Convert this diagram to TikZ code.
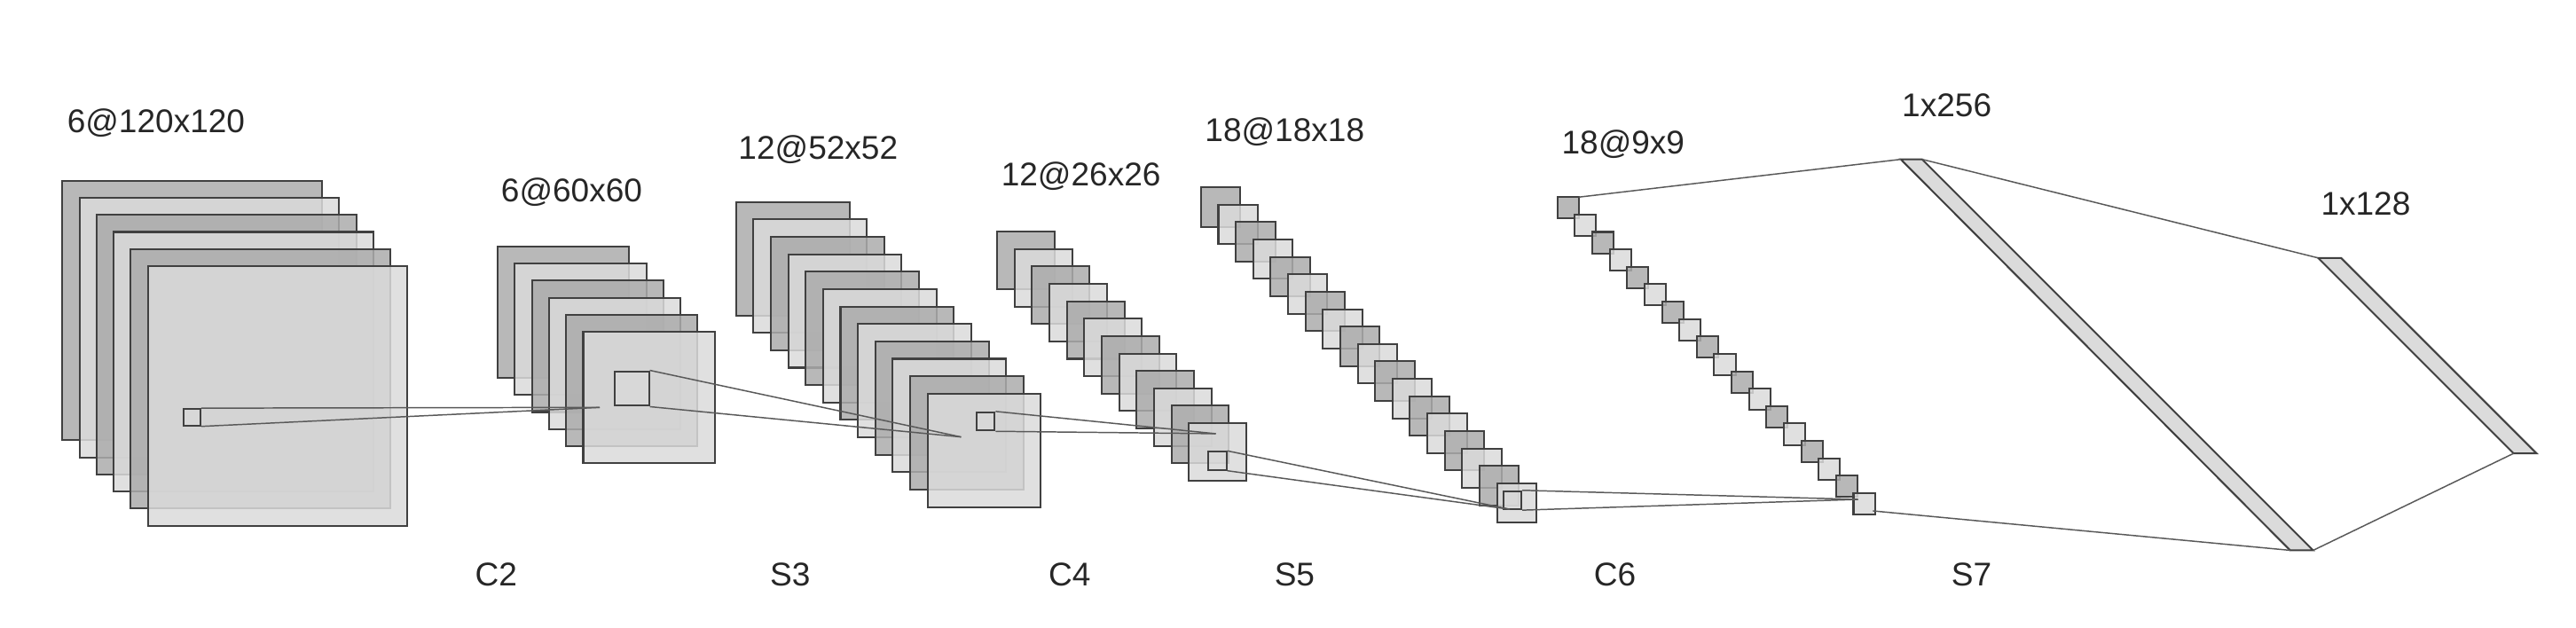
\documentclass[tikz,border=0pt]{standalone}
\usepackage{fontspec}
\setmainfont{Liberation Sans}
\begin{document}
\begin{tikzpicture}[x=1pt,y=-1pt,
  dk/.style={draw=black!75,line width=1.1pt,fill=black!33,fill opacity=0.85},
  lt/.style={draw=black!75,line width=1.1pt,fill=black!14,fill opacity=0.85},
  conn/.style={draw=black!65,line width=0.8pt},
  lbl/.style={font=\fontsize{20}{24}\selectfont,text=black!85,inner sep=0pt},
  sq/.style={draw=black!75,line width=1.1pt,inner sep=0pt,minimum size=#1,fill=black!14}]
\useasboundingbox (0,0) rectangle (1568,382);
% layer macro: x0 y0 size n step
\newcommand{\fmaps}[5]{%
  \foreach \i in {1,...,#4}{%
    \pgfmathsetmacro{\xx}{#1+(\i-1)*#5}%
    \pgfmathsetmacro{\yy}{#2+(\i-1)*#5}%
    \pgfmathparse{int(mod(\i,2))}%
    \ifnum\pgfmathresult=1 \def\st{dk}\else\def\st{lt}\fi
    \draw[\st] (\xx,\yy) rectangle ++(#3,#3);
  }}
\fmaps{38}{110}{158}{6}{10.4}
\fmaps{303}{150}{80}{6}{10.4}
\fmaps{448}{123}{69}{12}{10.6}
\fmaps{607}{141}{35}{12}{10.6}
\fmaps{731}{114}{24}{18}{10.6}
\fmaps{948}{120}{13}{18}{10.6}
% kernels
\node[sq=10pt,fill opacity=0.6] (k1) at (117,254) {};
\node[sq=21pt,fill opacity=0.6] (k2) at (384.5,236.5) {};
\node[sq=11pt,fill opacity=0.6] (k3) at (600,256.5) {};
\node[sq=11pt,fill opacity=0.6] (k4) at (741,280.5) {};
\node[sq=11pt,fill opacity=0.6] (k5) at (920.5,304.5) {};
\coordinate (p2) at (365,248);
\coordinate (p3) at (585,266);
\coordinate (p4) at (740,264);
\coordinate (p5) at (919,310);
\coordinate (p6) at (1131,304);
\foreach \a/\b in {k1/p2,k2/p3,k3/p4,k4/p5,k5/p6}{
  \draw[conn] (\a.north east) -- (\b);
  \draw[conn] (\a.south east) -- (\b);
}
% dense bars
\coordinate (a1) at (1157,97); \coordinate (a2) at (1170,97);
\coordinate (a3) at (1408,335); \coordinate (a4) at (1394,335);
\coordinate (b1) at (1411,157); \coordinate (b2) at (1425,157);
\coordinate (b3) at (1544,276); \coordinate (b4) at (1530,276);
\draw[lt,fill opacity=1] (a1) -- (a2) -- (a3) -- (a4) -- cycle;
\draw[lt,fill opacity=1] (b1) -- (b2) -- (b3) -- (b4) -- cycle;
\coordinate (c6t) at (961,120);
\coordinate (c6b) at (1140,311);
\draw[conn] (c6t) -- (a1);
\draw[conn] (c6b) -- (a4);
\draw[conn] (a2) -- (b1);
\draw[conn] (a3) -- (b4);
% labels
\node[lbl] (t1) at (95,75) {6@120x120};
\node[lbl] (t2) at (348,117) {6@60x60};
\node[lbl] (t3) at (498,91) {12@52x52};
\node[lbl] (t4) at (658,107) {12@26x26};
\node[lbl] (t5) at (782,80) {18@18x18};
\node[lbl] (t6) at (988,88) {18@9x9};
\node[lbl] (t7) at (1185,64) {1x256};
\node[lbl] (t8) at (1440,124) {1x128};
\node[lbl] (b2l) at (302,350) {C2};
\node[lbl] (b3l) at (481,350) {S3};
\node[lbl] (b4l) at (651,350) {C4};
\node[lbl] (b5l) at (788,350) {S5};
\node[lbl] (b6l) at (983,350) {C6};
\node[lbl] (b7l) at (1200,350) {S7};
\end{tikzpicture}
\end{document}
